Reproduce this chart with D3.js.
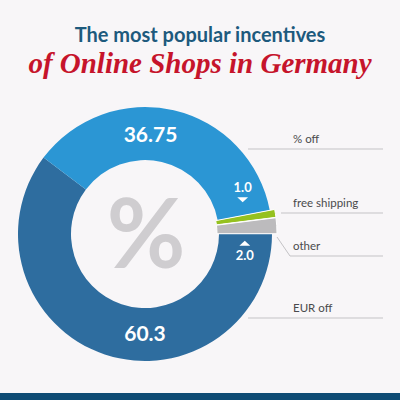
<!DOCTYPE html>
<html>
<head>
<meta charset="utf-8">
<script src="https://cdn.jsdelivr.net/npm/d3@7"></script>
<style>
  html, body { margin: 0; padding: 0; background: #f8f6f8; }
  svg { display: block; font-family: Lato, "Open Sans", sans-serif; }
</style>
</head>
<body>
<svg id="chart" width="400" height="400"></svg>
<script>
  // data
  var categories = ['EUR off', '% off', 'free shipping', 'other'];
  var values = [60.3, 36.75, 1.0, 2.0];
  var valueLabels = ['60.3', '36.75', '1.0', '2.0'];
  var colors = ['#2e6d9f', '#2b96d4', '#95c11f', '#bcbbbd'];
  var exploded = [false, false, true, true];

  var W = 400, H = 400;
  var cx = 145, cy = 234, rOuter = 127, rInner = 74;

  var svg = d3.select('#chart');

  svg.append('rect')
    .attr('width', W).attr('height', H)
    .attr('fill', '#f8f6f8');

  // titles
  svg.append('text')
    .attr('x', 200).attr('y', 42)
    .attr('text-anchor', 'middle')
    .attr('fill', '#1d5a7d')
    .style('font-size', '20px')
    .style('font-weight', 700)
    .text('The most popular incentives');

  svg.append('text')
    .attr('x', 200).attr('y', 73)
    .attr('text-anchor', 'middle')
    .attr('fill', '#c6142b')
    .style('font-family', '"Liberation Serif", serif')
    .style('font-style', 'italic')
    .style('font-weight', 700)
    .style('font-size', '29px')
    .text('of Online Shops in Germany');

  // donut
  var pie = d3.pie()
    .sort(null)
    .startAngle(Math.PI / 2)
    .endAngle(Math.PI / 2 + 2 * Math.PI)
    .value(function (d) { return d; });

  var arcs = pie(values);

  var arc = d3.arc().innerRadius(rInner).outerRadius(rOuter);
  var arcSmall = d3.arc().innerRadius(rInner - 6).outerRadius(rOuter + 1);

  var g = svg.append('g')
    .attr('transform', 'translate(' + cx + ',' + cy + ')');

  // big percent sign in the hole
  g.append('text')
    .attr('x', 1).attr('y', 34)
    .attr('text-anchor', 'middle')
    .attr('fill', '#cfcdd0')
    .style('font-size', '96px')
    .style('font-weight', 700)
    .text('%');

  g.selectAll('path.slice')
    .data(arcs)
    .enter()
    .append('path')
      .attr('class', 'slice')
      .attr('fill', function (d, i) { return colors[i]; })
      .attr('stroke', function (d, i) { return exploded[i] ? '#ffffff' : 'none'; })
      .attr('stroke-width', 1)
      .attr('transform', function (d, i) {
        if (!exploded[i]) { return null; }
        var a = (d.startAngle + d.endAngle) / 2;
        return 'translate(' + (4 * Math.sin(a)) + ',' + (-4 * Math.cos(a)) + ')';
      })
      .attr('d', function (d, i) { return exploded[i] ? arcSmall(d) : arc(d); });

  // value labels (angle, radius for each)
  var labelAngles = [Math.PI, 0.055, 1.13, 1.78];
  var labelRadii = [100, 100, 108, 102];
  var labelSizes = [21, 21, 13, 13];

  g.selectAll('text.value')
    .data(arcs)
    .enter()
    .append('text')
      .attr('class', 'value')
      .attr('text-anchor', 'middle')
      .attr('dy', '0.35em')
      .attr('x', function (d, i) { return labelRadii[i] * Math.sin(labelAngles[i]); })
      .attr('y', function (d, i) { return -labelRadii[i] * Math.cos(labelAngles[i]); })
      .attr('fill', '#ffffff')
      .style('font-size', function (d, i) { return labelSizes[i] + 'px'; })
      .style('font-weight', 700)
      .text(function (d, i) { return valueLabels[i]; });

  // small pointer triangles under/over the small labels
  var tri = d3.symbol().type(d3.symbolTriangle).size(30);
  [[2, 11, 180], [3, -11, 0]].forEach(function (t) {
    var i = t[0];
    var x = labelRadii[i] * Math.sin(labelAngles[i]);
    var y = -labelRadii[i] * Math.cos(labelAngles[i]) + t[1];
    g.append('path')
      .attr('d', tri)
      .attr('fill', '#ffffff')
      .attr('transform', 'translate(' + x + ',' + y + ') rotate(' + t[2] + ') scale(1.3,0.7)');
  });

  // legend with leader lines
  var legendY = [318, 149, 213, 256];
  var lineStart = [248, 248, 281, 290];

  var legend = svg.append('g').attr('class', 'legend');

  legend.selectAll('line.leader')
    .data(categories)
    .enter()
    .append('line')
      .attr('class', 'leader')
      .attr('x1', function (d, i) { return lineStart[i]; })
      .attr('x2', 383)
      .attr('y1', function (d, i) { return legendY[i]; })
      .attr('y2', function (d, i) { return legendY[i]; })
      .attr('stroke', '#c4c3c6')
      .attr('stroke-width', 1);

  legend.append('line')
    .attr('x1', 277).attr('y1', 237)
    .attr('x2', 290).attr('y2', 256)
    .attr('stroke', '#c4c3c6')
    .attr('stroke-width', 1);

  legend.selectAll('text.cat')
    .data(categories)
    .enter()
    .append('text')
      .attr('class', 'cat')
      .attr('x', 293)
      .attr('y', function (d, i) { return legendY[i] - 6; })
      .attr('fill', '#4a4a4c')
      .style('font-size', '11.5px')
      .text(function (d) { return d; });

  // bottom bar
  svg.append('rect')
    .attr('x', 0).attr('y', 393)
    .attr('width', W).attr('height', 7)
    .attr('fill', '#0e4b74');
</script>
</body>
</html>
